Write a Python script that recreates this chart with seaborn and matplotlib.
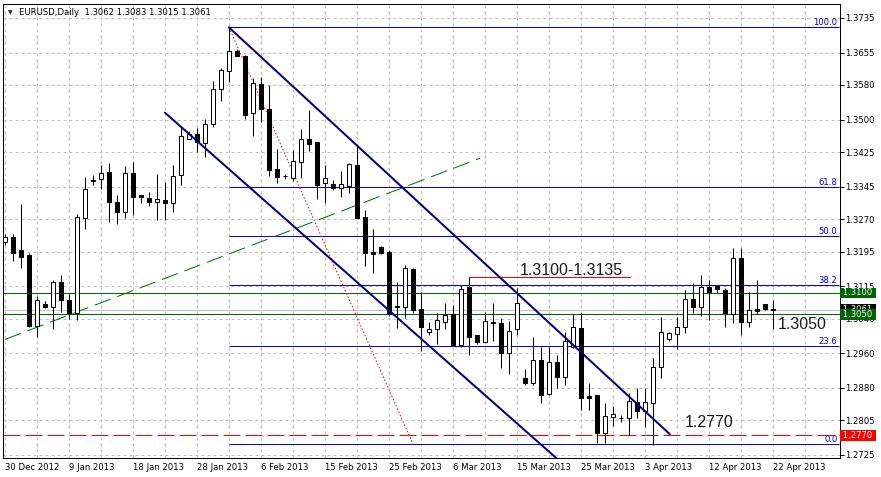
import numpy as np
import pandas as pd
import matplotlib
matplotlib.use("Agg")
import matplotlib.pyplot as plt
import seaborn as sns

# EURUSD daily bars, 30 Dec 2012 .. 22 Apr 2013 (Sunday bars included)
opens = [1.3217, 1.3229, 1.3199, 1.3187, 1.3024, 1.3074, 1.3068, 1.3124, 1.3083, 1.3054,
         1.3272, 1.3360, 1.3362, 1.3380, 1.3309, 1.3287, 1.3376, 1.3326, 1.3318, 1.3309,
         1.3314, 1.3307, 1.3371, 1.3456, 1.3467, 1.3447, 1.3491, 1.3570, 1.3613, 1.3659,
         1.3647, 1.3515, 1.3582, 1.3524, 1.3386, 1.3369, 1.3366, 1.3403, 1.3455, 1.3448,
         1.3353, 1.3351, 1.3341, 1.3347, 1.3395, 1.3276, 1.3195, 1.3206, 1.3195, 1.3069,
         1.3068, 1.3155, 1.3062, 1.3008, 1.3015, 1.3033, 1.3051, 1.2979, 1.3112, 1.3002,
         1.2987, 1.3032, 1.3029, 1.2961, 1.3016, 1.2902, 1.2891, 1.2944, 1.2865, 1.2940,
         1.2905, 1.2974, 1.3018, 1.2861, 1.2864, 1.2775, 1.2813, 1.2810, 1.2810, 1.2847,
         1.2826, 1.2844, 1.2929, 1.2992, 1.3004, 1.3020, 1.3085, 1.3066, 1.3112, 1.3115,
         1.3106, 1.3051, 1.3180, 1.3032, 1.3062, 1.3073, 1.3062]
highs = [1.3236, 1.3236, 1.3304, 1.3192, 1.3092, 1.3081, 1.3129, 1.3141, 1.3097, 1.3282,
         1.3367, 1.3372, 1.3395, 1.3400, 1.3326, 1.3393, 1.3401, 1.3326, 1.3333, 1.3374,
         1.3355, 1.3395, 1.3484, 1.3474, 1.3480, 1.3501, 1.3589, 1.3620, 1.3713, 1.3663,
         1.3649, 1.3596, 1.3598, 1.3580, 1.3432, 1.3374, 1.3430, 1.3478, 1.3522, 1.3448,
         1.3395, 1.3360, 1.3381, 1.3400, 1.3441, 1.3291, 1.3247, 1.3209, 1.3199, 1.3125,
         1.3164, 1.3158, 1.3102, 1.3033, 1.3052, 1.3076, 1.3072, 1.3118, 1.3136, 1.3002,
         1.3056, 1.3076, 1.3042, 1.3035, 1.3110, 1.2924, 1.2998, 1.2975, 1.2975, 1.2956,
         1.3010, 1.3051, 1.3052, 1.2892, 1.2864, 1.2846, 1.2837, 1.2817, 1.2868, 1.2879,
         1.2880, 1.2948, 1.3043, 1.3010, 1.3044, 1.3106, 1.3123, 1.3141, 1.3129, 1.3115,
         1.3110, 1.3203, 1.3203, 1.3102, 1.3129, 1.3073, 1.3083]
lows = [1.3210, 1.3174, 1.3158, 1.3021, 1.2998, 1.3065, 1.3017, 1.3056, 1.3039, 1.3037,
        1.3247, 1.3349, 1.3339, 1.3264, 1.3258, 1.3272, 1.3280, 1.3308, 1.3301, 1.3268,
        1.3268, 1.3287, 1.3349, 1.3456, 1.3426, 1.3414, 1.3484, 1.3544, 1.3588, 1.3648,
        1.3501, 1.3461, 1.3495, 1.3370, 1.3354, 1.3363, 1.3359, 1.3366, 1.3428, 1.3317,
        1.3307, 1.3337, 1.3322, 1.3331, 1.3273, 1.3162, 1.3146, 1.3189, 1.3045, 1.3019,
        1.3042, 1.3052, 1.2965, 1.3002, 1.2981, 1.3016, 1.2978, 1.2975, 1.2956, 1.2981,
        1.2985, 1.2988, 1.2925, 1.2911, 1.3002, 1.2887, 1.2887, 1.2844, 1.2864, 1.2879,
        1.2887, 1.2972, 1.2829, 1.2829, 1.2752, 1.2753, 1.2792, 1.2800, 1.2771, 1.2810,
        1.2790, 1.2748, 1.2902, 1.2989, 1.2969, 1.3006, 1.3054, 1.3045, 1.3037, 1.3099,
        1.3021, 1.3029, 1.3002, 1.3020, 1.3051, 1.3060, 1.3015]
closes = [1.3229, 1.3192, 1.3183, 1.3024, 1.3083, 1.3068, 1.3124, 1.3082, 1.3052, 1.3274,
          1.3339, 1.3357, 1.3377, 1.3310, 1.3286, 1.3376, 1.3322, 1.3320, 1.3310, 1.3316,
          1.3308, 1.3370, 1.3462, 1.3467, 1.3449, 1.3489, 1.3570, 1.3615, 1.3659, 1.3648,
          1.3511, 1.3584, 1.3524, 1.3384, 1.3368, 1.3369, 1.3404, 1.3455, 1.3444, 1.3349,
          1.3364, 1.3341, 1.3351, 1.3397, 1.3273, 1.3192, 1.3189, 1.3192, 1.3050, 1.3068,
          1.3156, 1.3060, 1.3021, 1.3015, 1.3036, 1.3048, 1.2978, 1.3108, 1.2998, 1.2987,
          1.3035, 1.3031, 1.2960, 1.3012, 1.3076, 1.2892, 1.2944, 1.2864, 1.2939, 1.2904,
          1.2989, 1.3020, 1.2857, 1.2857, 1.2775, 1.2815, 1.2820, 1.2810, 1.2850, 1.2826,
          1.2847, 1.2928, 1.3010, 1.3006, 1.3020, 1.3085, 1.3068, 1.3112, 1.3102, 1.3108,
          1.3054, 1.3180, 1.3033, 1.3060, 1.3058, 1.3062, 1.3061]

date_labels = ["30 Dec 2012", "9 Jan 2013", "18 Jan 2013", "28 Jan 2013", "6 Feb 2013",
               "15 Feb 2013", "25 Feb 2013", "6 Mar 2013", "15 Mar 2013", "25 Mar 2013",
               "3 Apr 2013", "12 Apr 2013", "22 Apr 2013"]
price_ticks = [1.3735, 1.3655, 1.3580, 1.3500, 1.3425, 1.3345, 1.3270, 1.3195,
               1.3115, 1.3040, 1.2960, 1.2880, 1.2805, 1.2725]

# drawing objects on the chart
fib_bars = [28, 51]
fib_prices = [1.3713, 1.2750]
fib_levels = [0.0, 23.6, 38.2, 50.0, 61.8, 100.0]
upper_channel_bars = [28, 83.1]
upper_channel_prices = [1.3713, 1.2773]
lower_channel_bars = [20, 70]
lower_channel_prices = [1.3516, 1.2700]
support_bars = [0, 59.4]
support_prices = [1.2992, 1.3411]
resist_bars = [58, 78.1]
resist_prices = [1.3136, 1.3136]
green_levels = [1.3100, 1.3050]
target_level = 1.2770
bid_price = 1.3061

df = pd.DataFrame({"open": opens, "high": highs, "low": lows, "close": closes})
df["bar"] = np.arange(len(df))
df["up"] = df["close"] >= df["open"]

sns.set_theme(style="white")
plt.rcParams["font.family"] = ["DejaVu Sans"]

W, H = 881, 477
fig = plt.figure(figsize=(W / 72, H / 72), dpi=72)
fig.patch.set_facecolor("white")
ax_l, ax_r, ax_t, ax_b = 3, 839.5, 4, 457.5
ax = fig.add_axes([ax_l / W, (H - ax_b) / H, (ax_r - ax_l) / W, (ax_b - ax_t) / H])
ax.set_facecolor("white")
ax.set_xlim(-0.25, 104.31)
ax.set_ylim(1.27191, 1.37672)
xmax = ax.get_xlim()[1]

grid_kw = dict(color="#c0c0c0", linestyle=(0, (3, 3)), linewidth=1)
ax.set_xticks(np.arange(0, len(df), 8))
ax.set_xticklabels(date_labels, ha="left")
ax.set_xticks(np.arange(0, 101, 4), minor=True)
ax.set_yticks(price_ticks)
ax.set_yticklabels([f"{p:.4f}" for p in price_ticks])
ax.yaxis.tick_right()
ax.grid(True, which="both", axis="x", **grid_kw)
ax.grid(True, which="major", axis="y", **grid_kw)
ax.set_axisbelow(True)
ax.tick_params(axis="both", which="major", direction="out", length=4, width=1,
               colors="black", labelsize=8.5, pad=2)
ax.tick_params(axis="both", which="minor", length=0)
for s in ax.spines.values():
    s.set_color("black")
    s.set_linewidth(1)

# horizontal levels
ax.axhline(bid_price, color="#c0c0c0", lw=1, zorder=2)
for lvl in green_levels:
    ax.axhline(lvl, color="#006400", lw=1, zorder=2)
ax.axhline(target_level, color="#ff0000", lw=1, linestyle=(0, (17, 5)), zorder=2)

# fibonacci retracement
for lvl in fib_levels:
    p = fib_prices[1] + lvl / 100 * (fib_prices[0] - fib_prices[1])
    ax.hlines(p, fib_bars[0], xmax, color="#0000ff", lw=1, zorder=2)
    ax.annotate(f"{lvl:.1f}", xy=(1, p), xycoords=ax.get_yaxis_transform(),
                xytext=(-2, 0), textcoords="offset points", ha="right", va="bottom",
                color="#0000ff", fontsize=8.5)
sns.lineplot(x=fib_bars, y=fib_prices, ax=ax, color="#ff0000", lw=1,
             linestyle=(0, (1.5, 2)), zorder=2)

# trend lines
sns.lineplot(x=upper_channel_bars, y=upper_channel_prices, ax=ax, color="#000080", lw=2, zorder=5)
sns.lineplot(x=lower_channel_bars, y=lower_channel_prices, ax=ax, color="#000080", lw=2, zorder=5)
sns.lineplot(x=support_bars, y=support_prices, ax=ax, color="#007000", lw=1,
             linestyle=(0, (17, 7)), zorder=2)
sns.lineplot(x=resist_bars, y=resist_prices, ax=ax, color="#ff0000", lw=1, zorder=2)

# candles
ax.vlines(df["bar"], df["low"], df["high"], color="black", lw=1, zorder=3)
ax.bar(df["bar"], (df["close"] - df["open"]).abs(), bottom=df[["open", "close"]].min(axis=1),
       width=0.5, color=np.where(df["up"], "white", "black"), edgecolor="black",
       linewidth=1, zorder=4)

# text labels on the chart
big = dict(fontsize=16, family=["Liberation Sans", "DejaVu Sans"], color="#1a1a1a",
           va="center", ha="left", zorder=6)
ax.text(64.4, 1.3152, "1.3100-1.3135", **big)
ax.text(96.6, 1.3027, "1.3050", **big)
ax.text(85.0, 1.2801, "1.2770", **big)

# price boxes on the right scale
bx = 1.0 + (840.5 - ax_r) / (ax_r - ax_l)
def price_box(p, fc, z):
    ax.text(bx, p, f" {p:.4f} ", transform=ax.get_yaxis_transform(), color="white",
            fontsize=8.5, va="center", ha="left", clip_on=False, zorder=z,
            bbox=dict(boxstyle="square,pad=0.08", fc=fc, ec="none"))
price_box(green_levels[0], "#006400", 7)
price_box(bid_price, "black", 7)
price_box(green_levels[1], "#006400", 8)
price_box(target_level, "#ff0000", 7)

# header
fig.text(8 / W, 1 - 12.5 / H, "\u25bc", fontsize=6, va="center", ha="left")
fig.text(19 / W, 1 - 12.5 / H,
         f"EURUSD,Daily  {opens[-1]:.4f} {highs[-1]:.4f} {lows[-1]:.4f} {closes[-1]:.4f}",
         fontsize=8.5, va="center", ha="left", color="black")

fig.savefig("out.png", dpi=72)
